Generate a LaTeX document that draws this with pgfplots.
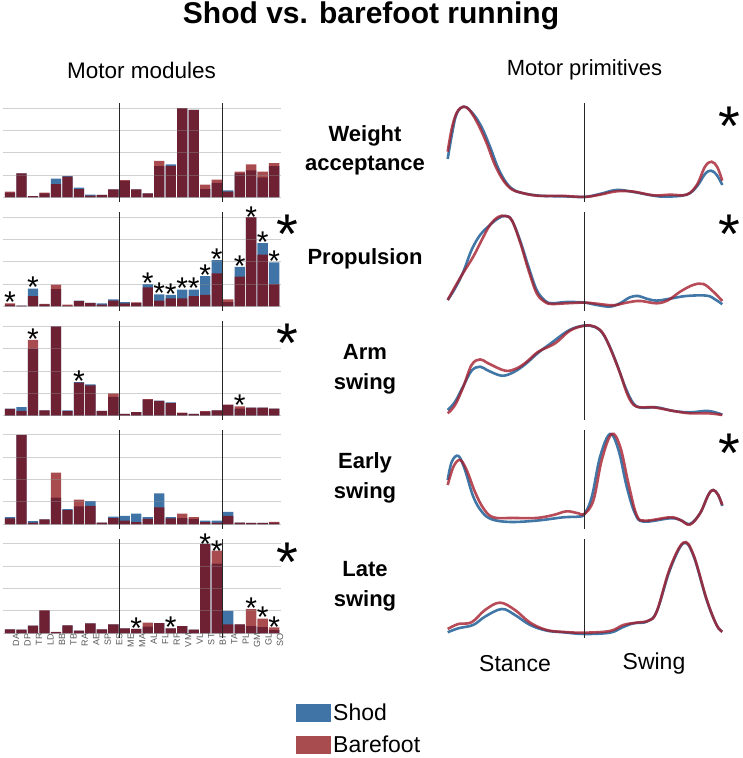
\documentclass[border=0pt]{standalone}
\usepackage{fontspec}
\setmainfont{Liberation Sans}
\usepackage{pgfplots}
\usepackage{pgfplotstable}
\pgfplotsset{compat=1.18}

\definecolor{shod}{RGB}{30,90,150}
\definecolor{bare}{RGB}{133,0,5}
\definecolor{shodline}{RGB}{31,95,150}
\definecolor{bareline}{RGB}{165,30,45}

% motor modules, columns s = shod, b = barefoot, one pair per synergy
\pgfplotstableread{
idx s1    b1    s2    b2    s3    b3    s4    b4    s5    b5
0   .055  .065  .02   .035  .078  .075  .08   .065  .045  .045
1   .27   .27   .01   .01   .095  .055  1     1     .04   .04
2   .015  .015  .2    .115  .75   .85   .035  .02   .085  .085
3   .045  .055  .025  .028  .06   .06   .055  .055  .255  .26
4   .21   .15   .195  .245  1     1     .3    .58   .012  .015
5   .24   .235  .01   .02   .06   .05   .17   .16   .09   .09
6   .11   .095  .065  .06   .375  .37   .2    .275  .03   .03
7   .033  .022  .04   .04   .35   .34   .26   .205  .11   .11
8   .03   .03   .035  .02   .055  .055  .02   .02   .045  .045
9   .09   .09   .08   .065  .21   .25   .085  .07   .1    .1
10  .185  .195  .05   .035  .02   .02   .095  .04   .055  .055
11  .09   .09   .04   .045  .04   .04   .12   .025  .05   .05
12  .045  .045  .25   .215  .18   .185  .08   .06   .075  .12
13  .35   .41   .135  .065  .17   .165  .345  .19   .115  .115
14  .37   .355  .13   .09   .15   .14   .08   .065  .055  .055
15  1     1     .19   .09   .03   .035  .07   .12   .08   .08
16  .98   .98   .19   .115  .02   .02   .06   .08   .04   .04
17  .095  .145  .34   .13   .045  .05   .04   .025  1     1
18  .165  .2    .52   .37   .06   .06   .04   .02   .78   .925
19  .08   .065  .05   .08   .12   .125  .14   .095  .25   .1
20  .27   .29   .445  .335  .08   .105  .02   .02   .1    .1
21  .305  .37   1     1     .09   .09   .015  .015  .08   .27
22  .225  .29   .71   .58   .09   .09   .015  .015  .07   .165
23  .35   .385  .495  .25   .08   .08   .02   .028  .035  .065
}\modules

\pgfplotsset{
  modulebars/.style={
    scale only axis, width=278pt, height=89.3pt,
    xmin=-0.61, xmax=23.6, ymin=0, ymax=1,
    clip=false, axis on top,
    ybar, bar width=10.3pt, bar shift=0pt,
    axis line style={draw=none},
    major tick length=0pt,
    ytick={0,.25,.5,.75,1}, yticklabels={},
    xtick=\empty,
    ymajorgrids,
    grid style={draw=black!45, line width=1pt, opacity=.4},
  },
  primitive/.style={
    scale only axis, width=274.6pt,
    xmin=0, xmax=100, ymin=0, ymax=1,
    clip=false, hide axis,
  },
  shodcurve/.style={smooth, tension=.6, no markers, draw=shodline, line width=2.6pt, opacity=.85},
  barecurve/.style={smooth, tension=.6, no markers, draw=bareline, line width=2.6pt, opacity=.8},
  smallstars/.style={draw=none, fill=none, nodes near coords={*},
    nodes near coords align={anchor=base},
    every node near coord/.append style={font=\fontsize{30}{30}\selectfont, inner sep=0pt, yshift=-17pt}},
  swatch legend/.style={legend image code/.code={\fill[##1] (0pt,-9pt) rectangle (35pt,9pt);}},
}

\newcommand{\modulerow}[5]{%
  \begin{axis}[modulebars, at={(3pt,#1pt)}, anchor=south west, #4]
    \addplot[fill=shod, draw=none, fill opacity=.85] table[x=idx, y=#2] {\modules};
    \addplot[fill=bare, draw=none, fill opacity=.7] table[x=idx, y=#3] {\modules};
    #5
  \end{axis}}

\newcommand{\bigstar}[2]{\node[inner sep=0pt, anchor=base, font=\fontsize{56}{56}\selectfont] at (#1pt,#2pt) {*};}
\newcommand{\rowlabel}[3]{\node[align=center, font=\fontsize{22}{29.5}\selectfont\bfseries] at (#1pt,#2pt) {#3};}

\begin{document}
\begin{tikzpicture}
\path[use as bounding box] (0pt,0pt) rectangle (743pt,758pt);

\node[font=\fontsize{30}{36}\selectfont\bfseries] at (371pt,742pt) {Shod vs. barefoot running};
\node[font=\fontsize{22.5}{27}\selectfont] at (141.5pt,688pt) {Motor modules};
\node[font=\fontsize{22}{27}\selectfont] at (584.5pt,688pt) {Motor primitives};

% motor modules
\modulerow{560.5}{s1}{b1}{}{}
\modulerow{451.5}{s2}{b2}{}{
  \addplot[smallstars] coordinates {(0,.12) (2,.287) (12,.332) (13,.22) (14,.213) (15,.275) (16,.275) (17,.431) (18,.602) (20,.528) (21,1.08) (22,.80) (23,.583)};
}
\modulerow{342.3}{s3}{b3}{}{
  \addplot[smallstars] coordinates {(2,.933) (6,.463) (20,.193)};
}
\modulerow{233.7}{s4}{b4}{}{}
\modulerow{124.7}{s5}{b5}{
  xtick={0,...,23},
  xticklabels={DA,DP,TR,LD,BB,TB,RA,AE,SP,ES,ME,MA,AL,FL,RF,VM,VL,ST,BF,TA,PL,GM,GL,SO},
  xticklabel style={rotate=90, anchor=east, font=\fontsize{9}{9}\selectfont, text=black!65, inner sep=0pt, xshift=0pt, yshift=-6pt},
  swatch legend,
  legend style={at={(1.054,-0.77)}, anchor=north west, draw=none, fill=none, inner sep=0pt,
    font=\fontsize{23}{23}\selectfont, cells={anchor=west}, /tikz/row sep=9pt},
}{
  \addlegendentry{Shod}
  \addlegendentry{Barefoot}
  \addplot[smallstars] coordinates {(11,.136) (14,.14) (17,1.07) (18,.999) (21,.358) (22,.25) (23,.14)};
}

% phase separators of the module panels
\foreach \yb/\yt in {556.3/654.7, 447.3/545.7, 338/437, 229/328, 120/219} {
  \draw[black!85, line width=.9pt] (119pt,\yb pt) -- (119pt,\yt pt);
  \draw[black!85, line width=.9pt] (222.3pt,\yb pt) -- (222.3pt,\yt pt);
}

% motor primitives
\begin{axis}[primitive, height=90.6pt, at={(447.7pt,560.7pt)}, anchor=south west]
  \addplot[shodcurve] coordinates {(0,.423) (1.5,.688) (3.3,.926) (6.1,1) (9.3,.919) (12.4,.772) (15.4,.559) (18.4,.32) (21.5,.154) (24.5,.074) (28.8,.037) (34.8,.015) (42.1,.011) (49.8,.004) (55.5,.037) (61.5,.081) (67.6,.059) (74.9,.018) (79.7,.007) (87,.029) (90.7,.118) (93.7,.257) (95.9,.294) (98,.246) (100,.136)};
  \addplot[barecurve] coordinates {(0,.504) (1.5,.761) (3.3,.934) (5.7,1) (8.1,.956) (11.2,.798) (14.2,.596) (17.2,.357) (20.3,.184) (23.3,.088) (26.3,.055) (32.4,.018) (42.1,.015) (49.8,.004) (55.5,.029) (61.5,.066) (67.6,.063) (74.9,.022) (81,.029) (87,.029) (90.7,.136) (93.7,.338) (96.1,.393) (98.2,.331) (100,.184)};
\end{axis}
\begin{axis}[primitive, height=87.3pt, at={(447.7pt,454.7pt)}, anchor=south west]
  \addplot[shodcurve] coordinates {(0,.038) (2.7,.172) (5.7,.363) (8.7,.611) (11.8,.782) (15.4,.897) (18.4,.973) (20.9,1) (23.3,.954) (26.3,.725) (29.4,.42) (32.4,.153) (35.4,.031) (37.9,0) (43.3,.015) (49.8,.008) (54.2,-.019) (59.1,-.038) (62.7,0) (66.4,.069) (69.4,.084) (72.4,.053) (76.1,.031) (80.9,.053) (87,.084) (94.3,.088) (97.3,.046) (100,-.011)};
  \addplot[barecurve] coordinates {(0,.038) (2.7,.191) (5.7,.351) (9.3,.534) (12.4,.725) (15.4,.897) (18.4,.989) (20.9,1) (23.3,.954) (26.3,.706) (29.4,.382) (32.4,.115) (35.4,.015) (37.9,-.008) (43.3,0) (49.8,.008) (54.2,-.004) (60.3,-.023) (65.2,.008) (70,.027) (76.1,0) (80.4,.038) (84.7,.134) (89.4,.21) (93.1,.221) (96.7,.134) (100,.027)};
\end{axis}
\begin{axis}[primitive, height=89.3pt, at={(447.7pt,343pt)}, anchor=south west]
  \addplot[shodcurve] coordinates {(0,.056) (2.7,.149) (5.7,.325) (8.7,.496) (11.8,.541) (14.8,.496) (19.7,.44) (23.9,.478) (28.2,.567) (33,.698) (37.9,.81) (43.3,.933) (47.6,.989) (51.8,1) (55.5,.948) (58.5,.799) (61.5,.578) (64.6,.317) (67.6,.131) (70.6,.082) (76.1,.086) (82.2,.045) (88.2,.03) (94.9,.045) (100,.004)};
  \addplot[barecurve] coordinates {(0,.019) (2.7,.112) (5.7,.317) (8.7,.56) (11.8,.623) (14.8,.578) (20.9,.496) (25.1,.522) (28.8,.597) (33,.709) (39.1,.802) (44.5,.944) (49.8,1) (53.6,.989) (56.7,.907) (59.7,.709) (62.8,.466) (65.8,.205) (68.8,.093) (74.9,.086) (82.2,.045) (88.2,.019) (94.9,.019) (100,0)};
\end{axis}
\begin{axis}[primitive, height=89.3pt, at={(447.7pt,234.7pt)}, anchor=south west]
  \addplot[shodcurve] coordinates {(0,.485) (1.5,.69) (3.9,.754) (6.3,.597) (9.3,.299) (12.4,.131) (16,.045) (22.7,.015) (32.4,.03) (42.1,.067) (47.6,.075) (49.8,.104) (52.5,.299) (55.5,.746) (59.1,1) (62.2,.821) (65.2,.41) (68.2,.112) (71.3,.019) (81,.056) (84.7,.037) (88.2,-.007) (91.9,.112) (94.9,.317) (96.7,.373) (98.5,.317) (100,.194)};
  \addplot[barecurve] coordinates {(0,.429) (2.1,.634) (4.5,.709) (6.9,.597) (9.9,.354) (13,.168) (16.6,.067) (23.9,.06) (32.4,.06) (38.5,.093) (43.3,.134) (47.6,.112) (49.8,.104) (53.1,.261) (56.1,.709) (59.7,1) (62.8,.858) (65.8,.448) (68.8,.093) (71.9,.03) (81,.067) (84.7,.037) (88.2,-.015) (91.9,.112) (94.9,.317) (96.7,.373) (98.5,.317) (100,.205)};
\end{axis}
\begin{axis}[primitive, height=89.6pt, at={(447.7pt,125.7pt)}, anchor=south west]
  \addplot[shodcurve] coordinates {(0,0) (3.9,.045) (9.3,.082) (13.6,.175) (19.7,.26) (24.5,.193) (30,.082) (36,.019) (42.1,0) (49.8,-.019) (59.1,-.004) (63.4,.052) (67.6,.1) (72.5,.119) (76.1,.23) (80.9,.695) (85.8,.993) (89.4,.862) (94.3,.361) (97.9,.082) (100,.007)};
  \addplot[barecurve] coordinates {(0,.037) (3.9,.093) (8.7,.112) (13.6,.249) (19,.331) (24.5,.249) (30,.108) (36,.026) (42.1,.004) (49.8,-.004) (59.1,.015) (64,.082) (68.8,.108) (73.1,.13) (76.1,.23) (80.9,.714) (85.8,1) (89.4,.874) (94.3,.368) (97.9,.082) (100,.007)};
\end{axis}

% stance / swing boundary
\foreach \yb/\yt in {556.3/654.7, 447.3/545.7, 338/437, 229/328, 120/219} {
  \draw[black!85, line width=.8pt] (584.3pt,\yb pt) -- (584.3pt,\yt pt);
}

% row labels
\rowlabel{365}{607.5}{Weight\\acceptance}
\rowlabel{365}{499}{Propulsion}
\rowlabel{365}{388.5}{Arm\\swing}
\rowlabel{365}{280}{Early\\swing}
\rowlabel{365}{171.5}{Late\\swing}

\node[font=\fontsize{23}{27}\selectfont] at (515pt,94pt) {Stance};
\node[font=\fontsize{23}{27}\selectfont] at (654pt,94pt) {Swing};

% overall significance stars
\bigstar{287.3}{504}
\bigstar{287.3}{395}
\bigstar{287.3}{176}
\bigstar{729.5}{612}
\bigstar{729.5}{504}
\bigstar{729.5}{285}
\end{tikzpicture}
\end{document}
